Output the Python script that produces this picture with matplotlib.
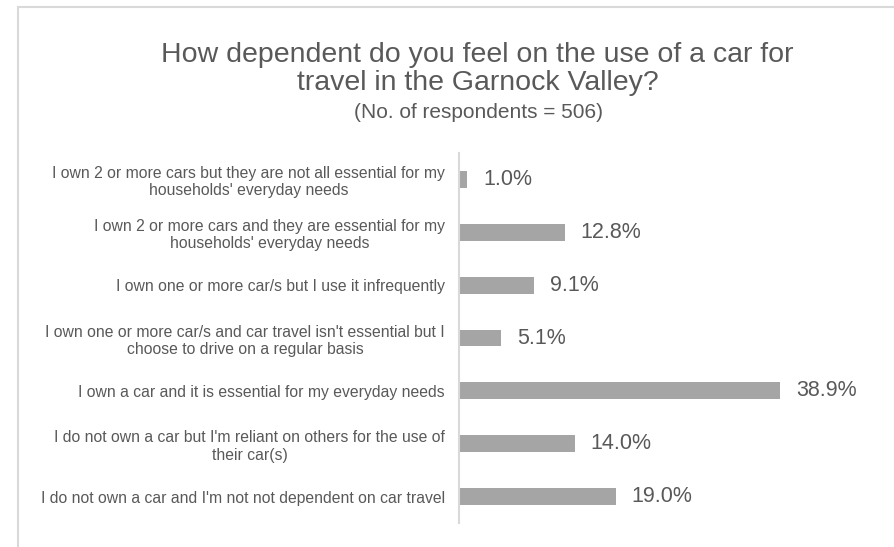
import matplotlib
matplotlib.use("Agg")
import matplotlib.pyplot as plt
from matplotlib.patches import Rectangle

plt.rcParams['font.family'] = ['Liberation Sans', 'DejaVu Sans']

categories = [
    "I own 2 or more cars but they are not all essential for my\nhouseholds' everyday needs",
    "I own 2 or more cars and they are essential for my\nhouseholds' everyday needs",
    "I own one or more car/s but I use it infrequently",
    "I own one or more car/s and car travel isn't essential but I\nchoose to drive on a regular basis",
    "I own a car and it is essential for my everyday needs",
    "I do not own a car but I'm reliant on others for the use of\ntheir car(s)",
    "I do not own a car and I'm not not dependent on car travel",
]
values = [1.0, 12.8, 9.1, 5.1, 38.9, 14.0, 19.0]

title_lines = ["How dependent do you feel on the use of a car for",
               "travel in the Garnock Valley?"]
subtitle = "(No. of respondents = 506)"

TEXT = "#595959"
BAR = "#a5a5a5"
LINE = "#d9d9d9"

W, H = 894, 547
fig = plt.figure(figsize=(W / 100, H / 100), dpi=100)

# outer chart frame
fig.patches.append(Rectangle((17.5 / W, -0.1), 1.2, 1 - 7 / H + 0.1, transform=fig.transFigure,
                             fill=False, edgecolor=LINE, linewidth=1.5))

ax = fig.add_axes([459 / W, 1 - 523 / H, (856 - 459) / W, (523 - 153) / H])
ypos = list(range(len(categories)))
ax.barh(ypos, values, height=0.32, color=BAR)
ax.set_ylim(len(categories) - 0.5, -0.5)
ax.set_xlim(0, 48.1)

for y, v in zip(ypos, values):
    ax.text(v + 1.9, y, f"{v:.1f}%", va="center", ha="left", fontsize=15.5, color=TEXT)

ax.set_yticks(ypos)
ax.set_yticklabels(categories, fontsize=11.3, color=TEXT, multialignment="center",
                   linespacing=1.2)
ax.tick_params(axis="y", length=0, pad=10)
ax.set_xticks([])
for s in ["top", "right", "bottom"]:
    ax.spines[s].set_visible(False)
ax.spines["left"].set_color(LINE)
ax.spines["left"].set_linewidth(1.5)

# title lines placed at their baselines
fig.text(477.5 / W, 1 - 62 / H, title_lines[0], ha="center", va="baseline",
         fontsize=20.5, color=TEXT)
fig.text(477.5 / W, 1 - 90 / H, title_lines[1], ha="center", va="baseline",
         fontsize=20.5, color=TEXT)
fig.text(478 / W, 1 - 118 / H, subtitle, ha="center", va="baseline", fontsize=15, color=TEXT)

fig.savefig("out.png", dpi=100)
